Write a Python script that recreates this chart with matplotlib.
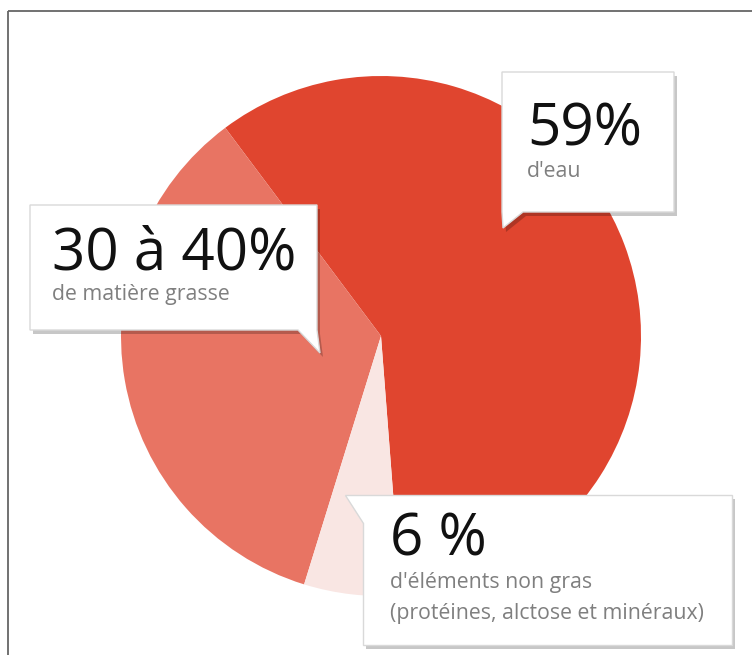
import matplotlib
matplotlib.use("Agg")
import matplotlib.pyplot as plt
from matplotlib.patches import Polygon

plt.rcParams['font.family'] = ['Open Sans', 'DejaVu Sans']

# composition du lait (en %)
labels = ["d'eau", "de matière grasse", "d'éléments non gras"]
values = [59, 35, 6]
colors = ["#E0452F", "#E87463", "#F9E6E3"]
big_texts = ["59%", "30 à 40%", "6 %"]
sub_texts = [["d'eau"], ["de matière grasse"],
             ["d'éléments non gras", "(protéines, alctose et minéraux)"]]

W, H = 752, 655
fig = plt.figure(figsize=(W / 100, H / 100), dpi=100)
ax = fig.add_axes([0, 0, 1, 1])


def py(y):
    # pixel y (from top) -> data y
    return H - y


# pie
ax.pie(values, colors=colors, startangle=-85.6, counterclock=True,
       center=(381, py(336)), radius=260, frame=True,
       wedgeprops=dict(linewidth=0))
ax.set_xlim(0, W)
ax.set_ylim(0, H)
ax.set_aspect('equal')
ax.axis('off')

# cadre (haut et gauche)
ax.plot([8, W], [py(11), py(11)], color="#666666", lw=1.3, solid_capstyle='butt')
ax.plot([8, 8], [py(11), py(H)], color="#666666", lw=1.3, solid_capstyle='butt')

# bulles
bubbles = [
    [(502, 72), (674, 72), (674, 212), (523, 212), (503, 228), (502, 212)],
    [(30, 205), (317, 205), (317, 330), (320, 353), (298, 330), (30, 330)],
    [(345, 495), (732, 495), (732, 645), (363, 645), (363, 523)],
]
text_pos = [(527, 145, [177]), (52, 270, [300]), (390, 555, [588, 619])]

for pts, big, subs, (tx, ty, sys) in zip(bubbles, big_texts, sub_texts, text_pos):
    shadow = [(x + 3, py(y + 4)) for x, y in pts]
    ax.add_patch(Polygon(shadow, closed=True, facecolor="#000000", alpha=0.22,
                         edgecolor='none', zorder=3))
    ax.add_patch(Polygon([(x, py(y)) for x, y in pts], closed=True,
                         facecolor="white", edgecolor="#d9d9d9", lw=1, zorder=4))
    ax.text(tx, py(ty), big, fontsize=42, color="#111111", ha='left',
            va='baseline', zorder=5)
    for s, sy in zip(subs, sys):
        ax.text(tx, py(sy), s, fontsize=15.3, color="#7f7f7f", ha='left',
                va='baseline', zorder=5)

fig.savefig("out.png", dpi=100, facecolor="white")
